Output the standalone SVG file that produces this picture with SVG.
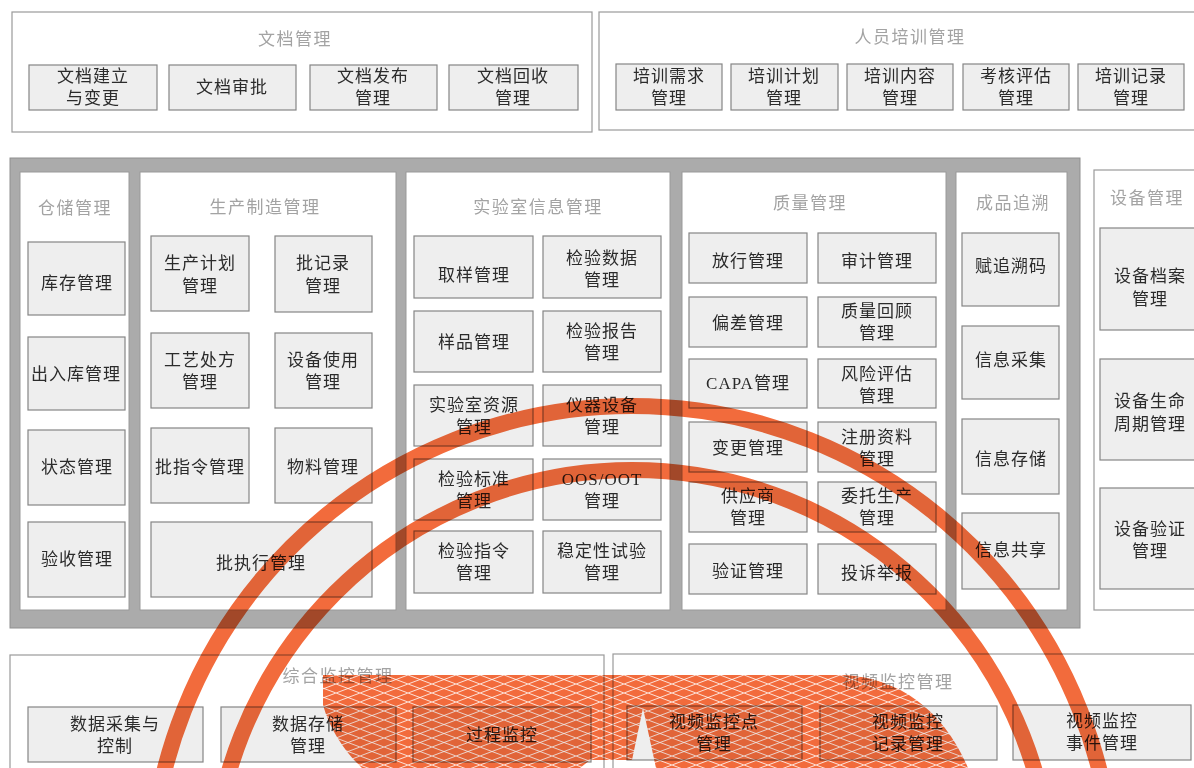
<svg xmlns="http://www.w3.org/2000/svg" width="1194" height="768" viewBox="0 0 1194 768">
<defs>
<style>
.outer{fill:#ffffff;stroke:#9a9a9a;stroke-width:1.2}
.frame{fill:#ababab;stroke:#8f8f8f;stroke-width:1}
.panel{fill:#ffffff;stroke:#9a9a9a;stroke-width:1}
.box{fill:#eeeeee;stroke:#858585;stroke-width:1.2}
.t{font-family:"Liberation Serif","Noto Sans CJK SC",serif;font-size:17px;fill:#2b2b2b;text-anchor:middle;dominant-baseline:central;letter-spacing:1px}
.ttl{font-family:"Liberation Serif","Noto Sans CJK SC",serif;font-size:17px;fill:#a3a3a3;text-anchor:middle;dominant-baseline:central;letter-spacing:1.5px}
.arc{fill:none;stroke:#f26b3c;stroke-width:16}
</style>
<pattern id="mesh" width="24" height="9" patternUnits="userSpaceOnUse">
<rect width="24" height="9" fill="#f26b3c"/>
<path d="M0,0 L24,9 M0,9 L24,0" stroke="#ffffff" stroke-width="0.8" fill="none"/>
</pattern>
</defs>
<rect width="1194" height="768" fill="#ffffff"/>

<g id="doc-mgmt">
<rect class="outer" x="12" y="12" width="580" height="120"/>
<text class="ttl" x="295" y="39">文档管理</text>
</g>
<g id="doc-create"><rect class="box" x="29" y="65" width="128" height="45"/><text class="t" x="93" y="76">文档建立</text><text class="t" x="93" y="98">与变更</text></g>
<g id="doc-approve"><rect class="box" x="169" y="65" width="127" height="45"/><text class="t" x="232" y="87">文档审批</text></g>
<g id="doc-publish"><rect class="box" x="310" y="65" width="127" height="45"/><text class="t" x="373" y="76">文档发布</text><text class="t" x="373" y="98">管理</text></g>
<g id="doc-recall"><rect class="box" x="449" y="65" width="129" height="45"/><text class="t" x="513" y="76">文档回收</text><text class="t" x="513" y="98">管理</text></g>

<g id="train-mgmt">
<rect class="outer" x="599" y="12" width="600" height="118"/>
<text class="ttl" x="910" y="37">人员培训管理</text>
</g>
<g id="train-need"><rect class="box" x="616" y="64" width="106" height="46"/><text class="t" x="669" y="76">培训需求</text><text class="t" x="669" y="98">管理</text></g>
<g id="train-plan"><rect class="box" x="731" y="64" width="107" height="46"/><text class="t" x="784" y="76">培训计划</text><text class="t" x="784" y="98">管理</text></g>
<g id="train-content"><rect class="box" x="847" y="64" width="106" height="46"/><text class="t" x="900" y="76">培训内容</text><text class="t" x="900" y="98">管理</text></g>
<g id="train-eval"><rect class="box" x="963" y="64" width="106" height="46"/><text class="t" x="1016" y="76">考核评估</text><text class="t" x="1016" y="98">管理</text></g>
<g id="train-record"><rect class="box" x="1078" y="64" width="106" height="46"/><text class="t" x="1131" y="76">培训记录</text><text class="t" x="1131" y="98">管理</text></g>

<g id="core-frame">
<rect class="frame" x="10" y="158" width="1070" height="470"/>
</g>

<g id="warehouse">
<rect class="panel" x="20" y="172" width="109" height="438"/>
<text class="ttl" x="75" y="208">仓储管理</text>
</g>
<g id="wh-stock"><rect class="box" x="28" y="242" width="97" height="73"/><text class="t" x="77" y="283">库存管理</text></g>
<g id="wh-inout"><rect class="box" x="28" y="337" width="97" height="73"/><text class="t" x="76" y="374">出入库管理</text></g>
<g id="wh-status"><rect class="box" x="28" y="430" width="97" height="75"/><text class="t" x="77" y="467">状态管理</text></g>
<g id="wh-accept"><rect class="box" x="28" y="522" width="97" height="75"/><text class="t" x="77" y="559">验收管理</text></g>

<g id="production">
<rect class="panel" x="140" y="172" width="256" height="438"/>
<text class="ttl" x="265" y="207">生产制造管理</text>
</g>
<g id="pr-plan"><rect class="box" x="151" y="236" width="98" height="75"/><text class="t" x="200" y="263">生产计划</text><text class="t" x="200" y="286">管理</text></g>
<g id="pr-batchrec"><rect class="box" x="275" y="236" width="97" height="76"/><text class="t" x="323" y="263">批记录</text><text class="t" x="323" y="286">管理</text></g>
<g id="pr-recipe"><rect class="box" x="151" y="333" width="98" height="75"/><text class="t" x="200" y="360">工艺处方</text><text class="t" x="200" y="382">管理</text></g>
<g id="pr-equip"><rect class="box" x="275" y="333" width="97" height="75"/><text class="t" x="323" y="360">设备使用</text><text class="t" x="323" y="382">管理</text></g>
<g id="pr-order"><rect class="box" x="151" y="428" width="98" height="75"/><text class="t" x="200" y="467">批指令管理</text></g>
<g id="pr-material"><rect class="box" x="275" y="428" width="97" height="75"/><text class="t" x="323" y="467">物料管理</text></g>
<g id="pr-exec"><rect class="box" x="151" y="522" width="221" height="75"/><text class="t" x="261" y="563">批执行管理</text></g>

<g id="lims">
<rect class="panel" x="406" y="172" width="264" height="438"/>
<text class="ttl" x="538" y="207">实验室信息管理</text>
</g>
<g id="lab-sampling"><rect class="box" x="414" y="236" width="119" height="62"/><text class="t" x="474" y="275">取样管理</text></g>
<g id="lab-data"><rect class="box" x="543" y="236" width="118" height="62"/><text class="t" x="602" y="258">检验数据</text><text class="t" x="602" y="280">管理</text></g>
<g id="lab-sample"><rect class="box" x="414" y="311" width="119" height="61"/><text class="t" x="474" y="342">样品管理</text></g>
<g id="lab-report"><rect class="box" x="543" y="311" width="118" height="61"/><text class="t" x="602" y="331">检验报告</text><text class="t" x="602" y="353">管理</text></g>
<g id="lab-resource"><rect class="box" x="414" y="385" width="119" height="61"/><text class="t" x="474" y="405">实验室资源</text><text class="t" x="474" y="427">管理</text></g>
<g id="lab-instrument"><rect class="box" x="543" y="385" width="118" height="61"/><text class="t" x="602" y="405">仪器设备</text><text class="t" x="602" y="427">管理</text></g>
<g id="lab-standard"><rect class="box" x="414" y="459" width="119" height="61"/><text class="t" x="474" y="479">检验标准</text><text class="t" x="474" y="501">管理</text></g>
<g id="lab-oos"><rect class="box" x="543" y="459" width="118" height="61"/><text class="t" x="602" y="479">OOS/OOT</text><text class="t" x="602" y="501">管理</text></g>
<g id="lab-instruction"><rect class="box" x="414" y="531" width="119" height="62"/><text class="t" x="474" y="551">检验指令</text><text class="t" x="474" y="573">管理</text></g>
<g id="lab-stability"><rect class="box" x="543" y="531" width="118" height="62"/><text class="t" x="602" y="551">稳定性试验</text><text class="t" x="602" y="573">管理</text></g>

<g id="quality">
<rect class="panel" x="682" y="172" width="264" height="438"/>
<text class="ttl" x="810" y="203">质量管理</text>
</g>
<g id="q-release"><rect class="box" x="689" y="233" width="118" height="50"/><text class="t" x="748" y="261">放行管理</text></g>
<g id="q-audit"><rect class="box" x="818" y="233" width="118" height="50"/><text class="t" x="877" y="261">审计管理</text></g>
<g id="q-deviation"><rect class="box" x="689" y="297" width="118" height="50"/><text class="t" x="748" y="323">偏差管理</text></g>
<g id="q-review"><rect class="box" x="818" y="297" width="118" height="50"/><text class="t" x="877" y="311">质量回顾</text><text class="t" x="877" y="333">管理</text></g>
<g id="q-capa"><rect class="box" x="689" y="359" width="118" height="49"/><text class="t" x="748" y="383">CAPA管理</text></g>
<g id="q-risk"><rect class="box" x="818" y="359" width="118" height="49"/><text class="t" x="877" y="374">风险评估</text><text class="t" x="877" y="396">管理</text></g>
<g id="q-change"><rect class="box" x="689" y="422" width="118" height="50"/><text class="t" x="748" y="448">变更管理</text></g>
<g id="q-registration"><rect class="box" x="818" y="422" width="118" height="50"/><text class="t" x="877" y="437">注册资料</text><text class="t" x="877" y="459">管理</text></g>
<g id="q-supplier"><rect class="box" x="689" y="482" width="118" height="50"/><text class="t" x="748" y="496">供应商</text><text class="t" x="748" y="518">管理</text></g>
<g id="q-contract"><rect class="box" x="818" y="482" width="118" height="50"/><text class="t" x="877" y="496">委托生产</text><text class="t" x="877" y="518">管理</text></g>
<g id="q-validation"><rect class="box" x="689" y="544" width="118" height="50"/><text class="t" x="748" y="571">验证管理</text></g>
<g id="q-complaint"><rect class="box" x="818" y="544" width="118" height="50"/><text class="t" x="877" y="573">投诉举报</text></g>

<g id="traceability">
<rect class="panel" x="956" y="172" width="111" height="438"/>
<text class="ttl" x="1013" y="203">成品追溯</text>
</g>
<g id="tr-code"><rect class="box" x="962" y="233" width="97" height="73"/><text class="t" x="1011" y="266">赋追溯码</text></g>
<g id="tr-collect"><rect class="box" x="962" y="326" width="97" height="73"/><text class="t" x="1011" y="360">信息采集</text></g>
<g id="tr-store"><rect class="box" x="962" y="419" width="97" height="75"/><text class="t" x="1011" y="459">信息存储</text></g>
<g id="tr-share"><rect class="box" x="962" y="513" width="97" height="76"/><text class="t" x="1011" y="550">信息共享</text></g>

<g id="equipment">
<rect class="outer" x="1094" y="170" width="110" height="440"/>
<text class="ttl" x="1147" y="198">设备管理</text>
</g>
<g id="eq-file"><rect class="box" x="1100" y="228" width="100" height="102"/><text class="t" x="1150" y="276">设备档案</text><text class="t" x="1150" y="299">管理</text></g>
<g id="eq-life"><rect class="box" x="1100" y="359" width="100" height="101"/><text class="t" x="1150" y="401">设备生命</text><text class="t" x="1150" y="424">周期管理</text></g>
<g id="eq-validation"><rect class="box" x="1100" y="488" width="100" height="101"/><text class="t" x="1150" y="529">设备验证</text><text class="t" x="1150" y="551">管理</text></g>

<g id="monitor-mgmt">
<rect class="outer" x="10" y="655" width="594" height="130"/>
<text class="ttl" x="338" y="676">综合监控管理</text>
</g>
<g id="mon-collect"><rect class="box" x="28" y="707" width="175" height="55"/><text class="t" x="115" y="724">数据采集与</text><text class="t" x="115" y="746">控制</text></g>
<g id="mon-store"><rect class="box" x="221" y="707" width="175" height="55"/><text class="t" x="308" y="724">数据存储</text><text class="t" x="308" y="746">管理</text></g>
<g id="mon-process"><rect class="box" x="413" y="707" width="178" height="55"/><text class="t" x="502" y="735">过程监控</text></g>

<g id="video-mgmt">
<rect class="outer" x="613" y="654" width="600" height="130"/>
<text class="ttl" x="898" y="682">视频监控管理</text>
</g>
<g id="vid-point"><rect class="box" x="627" y="706" width="175" height="54"/><text class="t" x="714" y="722">视频监控点</text><text class="t" x="714" y="744">管理</text></g>
<g id="vid-record"><rect class="box" x="820" y="706" width="177" height="54"/><text class="t" x="908" y="722">视频监控</text><text class="t" x="908" y="744">记录管理</text></g>
<g id="vid-event"><rect class="box" x="1013" y="705" width="178" height="55"/><text class="t" x="1102" y="721">视频监控</text><text class="t" x="1102" y="743">事件管理</text></g>

<g id="connectors"></g>

<g id="watermark" style="mix-blend-mode:multiply">
<path d="M323,675 H845 C900,678 945,712 968,768 H656 L643,708 L632,760 L590,760 L580,768 H362 C345,752 330,730 323,705 Z" fill="url(#mesh)"/>
<circle class="arc" cx="632" cy="888" r="482"/>
<circle class="arc" cx="632" cy="890" r="420"/>
</g>
</svg>
